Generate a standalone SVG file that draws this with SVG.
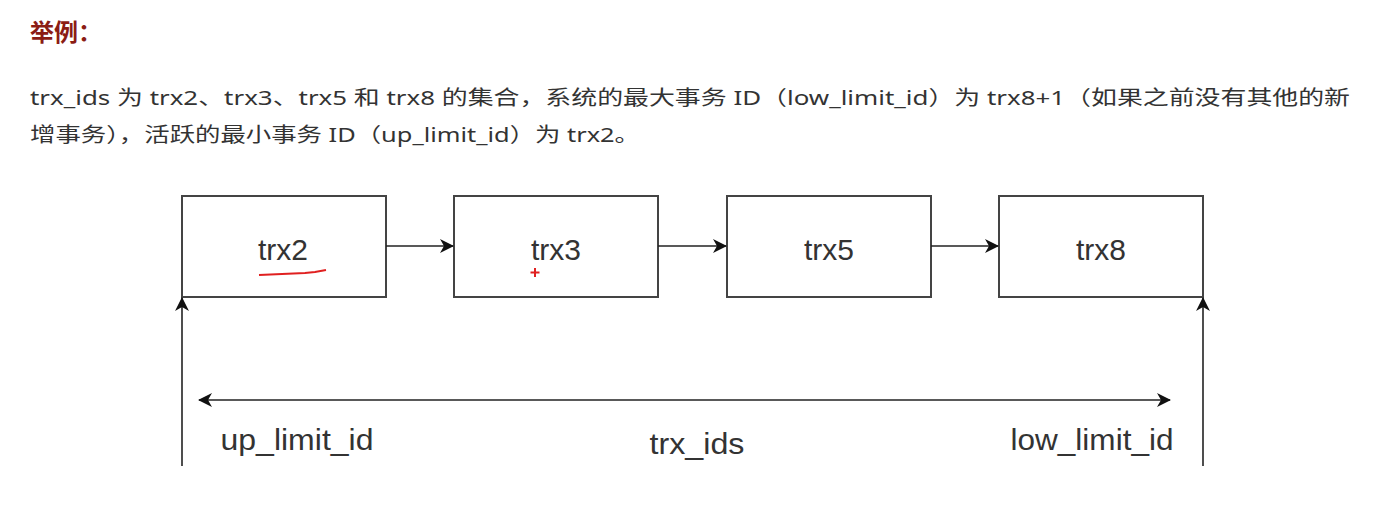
<svg xmlns="http://www.w3.org/2000/svg" width="1396" height="511" viewBox="0 0 1396 511">
<style>
.para{font-family:"Noto Sans","Noto Sans CJK SC",sans-serif;font-size:20px;fill:#333}
.box{fill:#fff;stroke:#444;stroke-width:2}
.lbl{font-family:"Liberation Sans",Arial,sans-serif;font-size:30px;fill:#333;text-anchor:middle}
.ln{stroke:#222;stroke-width:1.6;fill:none}
</style>
<defs>
<marker id="ah2" viewBox="0 0 14 14" refX="13" refY="7" markerWidth="14" markerHeight="14" markerUnits="userSpaceOnUse" orient="auto-start-reverse">
<path d="M0,0 L14,7 L0,14 L4,7 Z" fill="#111"/>
</marker>
</defs>
<rect width="1396" height="511" fill="#fff"/>
<text x="30" y="41" font-family="Noto Sans CJK SC,sans-serif" font-size="24" font-weight="bold" fill="#8b1c14">举例：</text>
<text class="para" x="30" y="105" textLength="1320" lengthAdjust="spacingAndGlyphs">trx_ids 为 trx2、trx3、trx5 和 trx8 的集合，系统的最大事务 ID（low_limit_id）为 trx8+1（如果之前没有其他的新</text>
<text class="para" x="30" y="142" textLength="610" lengthAdjust="spacingAndGlyphs">增事务），活跃的最小事务 ID（up_limit_id）为 trx2。</text>
<g id="trx2"><rect class="box" x="182" y="196" width="204" height="101"/><text class="lbl" x="283" y="260">trx2</text></g>
<g id="trx3"><rect class="box" x="454" y="196" width="204" height="101"/><text class="lbl" x="556" y="260">trx3</text></g>
<g id="trx5"><rect class="box" x="727" y="196" width="204" height="101"/><text class="lbl" x="829" y="260">trx5</text></g>
<g id="trx8"><rect class="box" x="999" y="196" width="204" height="101"/><text class="lbl" x="1101" y="260">trx8</text></g>
<g id="labels">
<text class="lbl" x="297" y="450" textLength="153" lengthAdjust="spacingAndGlyphs">up_limit_id</text>
<text class="lbl" x="697" y="454" textLength="95" lengthAdjust="spacingAndGlyphs">trx_ids</text>
<text class="lbl" x="1092" y="450" textLength="163" lengthAdjust="spacingAndGlyphs">low_limit_id</text>
</g>
<g id="connectors">
<line class="ln" x1="386" y1="246" x2="453" y2="246" marker-end="url(#ah2)"/>
<line class="ln" x1="658" y1="246" x2="726" y2="246" marker-end="url(#ah2)"/>
<line class="ln" x1="931" y1="246" x2="998" y2="246" marker-end="url(#ah2)"/>
<line class="ln" x1="182" y1="466" x2="182" y2="298" marker-end="url(#ah2)" stroke="#555"/>
<line class="ln" x1="1203" y1="466" x2="1203" y2="298" marker-end="url(#ah2)" stroke="#555"/>
<line class="ln" x1="199" y1="400" x2="1170" y2="400" marker-start="url(#ah2)" marker-end="url(#ah2)"/>
</g>
<g id="annotations" stroke="#e02020" stroke-width="2" fill="none">
<path d="M259,275 L305,273 L315,272 L326,270"/>
<path d="M535,268 L535,277 M530.5,272.5 L539.5,272.5"/>
</g>
</svg>
